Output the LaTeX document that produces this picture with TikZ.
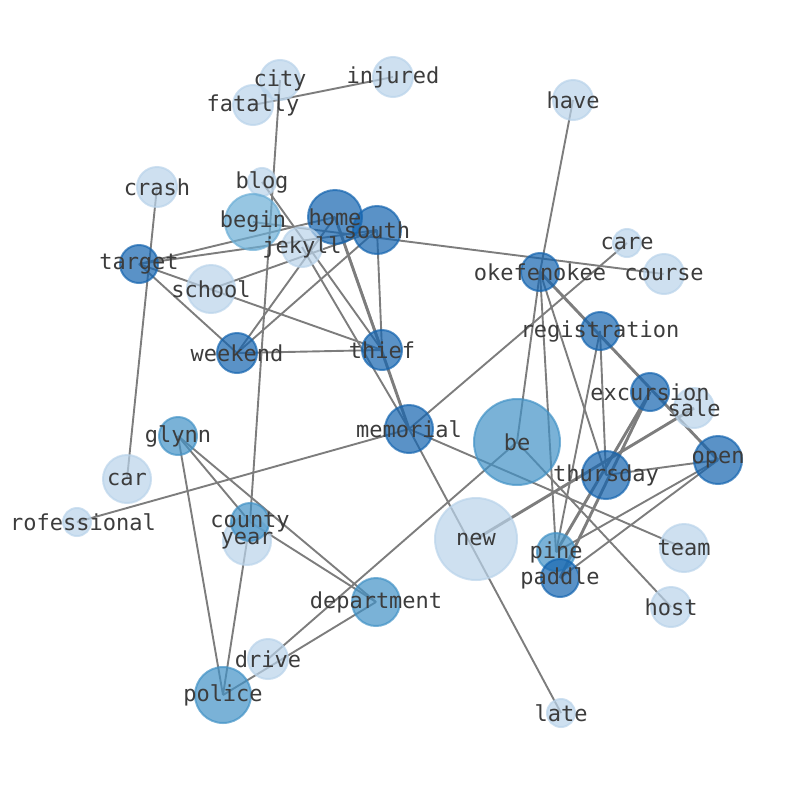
\documentclass[tikz,border=0pt]{standalone}
\usepackage{fontspec}
\newfontfamily\wordfont{DejaVu Sans Mono}
\pgfdeclarelayer{background}
\pgfsetlayers{background,main}
\definecolor{wordlight}{RGB}{185,211,234}
\definecolor{wordbegin}{RGB}{107,174,214}
\definecolor{wordmid}{RGB}{66,146,198}
\definecolor{worddark}{RGB}{20,100,175}
\definecolor{wordtext}{RGB}{60,60,60}
\definecolor{linkgray}{RGB}{125,125,125}
\newcommand\wordnode[4][wordlight]{%
  \node[wordnode=#1,minimum size=#2] (#3) at (#4) {};
}

\begin{document}
\begin{tikzpicture}[
x=1pt,y=-1pt,
wordnode/.style={
  circle,
  inner sep=0pt,
  line width=2pt,
  draw=#1,
  fill=#1,
  opacity=0.7},
wordlabel/.style={
  font=\wordfont\fontsize{22}{22}\selectfont,
  text=wordtext,
  inner sep=0pt},
link/.style={draw=linkgray, line width=1.9pt},
heavylink/.style={link, line width=2.9pt}
]
\useasboundingbox (0,0) rectangle (794,790);
% word circles
\wordnode{40}{city}{280,80}
\wordnode{40}{fatally}{253,105}
\wordnode{40}{injured}{393,77}
\wordnode{40}{have}{573,100}
\wordnode{40}{crash}{157,187}
\wordnode{28}{blog}{262,182}
\wordnode[wordbegin]{56}{begin}{253,222}
\wordnode[worddark]{54}{home}{335,217}
\wordnode[worddark]{48}{south}{377,230}
\wordnode{40}{jekyll}{302,247}
\wordnode[worddark]{38}{target}{139,264}
\wordnode{48}{school}{211,289}
\wordnode{28}{care}{627,243}
\wordnode[worddark]{38}{okefenokee}{540,272}
\wordnode{40}{course}{664,274}
\wordnode[worddark]{40}{weekend}{237,353}
\wordnode[worddark]{40}{thief}{382,350}
\wordnode[worddark]{38}{registration}{600,331}
\wordnode[worddark]{38}{excursion}{650,392}
\wordnode{40}{sale}{694,408}
\wordnode[worddark]{48}{memorial}{409,429}
\wordnode[wordmid]{86}{be}{517,442}
\wordnode[wordmid]{38}{glynn}{178,436}
\wordnode[worddark]{48}{thursday}{606,475}
\wordnode[worddark]{48}{open}{718,460}
\wordnode{48}{car}{127,479}
\wordnode{28}{professional}{77,522}
\wordnode{48}{year}{247,541}
\wordnode[wordmid]{38}{county}{250,522}
\wordnode{82}{new}{476,539}
\wordnode[wordmid]{38}{pine}{556,552}
\wordnode[worddark]{38}{paddle}{560,578}
\wordnode{48}{team}{684,548}
\wordnode[wordmid]{48}{department}{376,602}
\wordnode{40}{host}{671,607}
\wordnode{40}{drive}{268,659}
\wordnode[wordmid]{56}{police}{223,695}
\wordnode{28}{late}{561,713}
% words
\foreach \w in {city,fatally,injured,have,crash,blog,begin,home,south,jekyll,
  target,school,care,okefenokee,course,weekend,thief,registration,excursion,
  sale,memorial,be,glynn,thursday,open,car,county,year,new,pine,paddle,team,
  department,host,drive,police,late}
  \node[wordlabel] (\w-text) at (\w) {\w};
\node[wordlabel] (professional-text) at ([xshift=6pt]professional) {rofessional};
% links under the circles
\begin{pgfonlayer}{background}
\foreach \a/\b in {fatally/injured,city/county,year/police,crash/car,
  target/home,target/south,begin/course,target/weekend,target/thief,
  school/south,weekend/home,weekend/south,weekend/thief,south/thief,
  blog/thief,jekyll/memorial,home/thief,okefenokee/have,okefenokee/be,
  okefenokee/pine,okefenokee/thursday,registration/pine,registration/thursday,
  thursday/open,open/pine,open/paddle,care/memorial,memorial/professional,
  memorial/team,memorial/late,be/host,be/drive,glynn/police,glynn/county,
  glynn/department,county/department,police/department}
  \draw[link] (\a.center) -- (\b.center);
\foreach \a/\b in {home/memorial,okefenokee/open,excursion/pine,
  excursion/paddle,new/sale}
  \draw[heavylink] (\a.center) -- (\b.center);
\end{pgfonlayer}
\end{tikzpicture}
\end{document}
